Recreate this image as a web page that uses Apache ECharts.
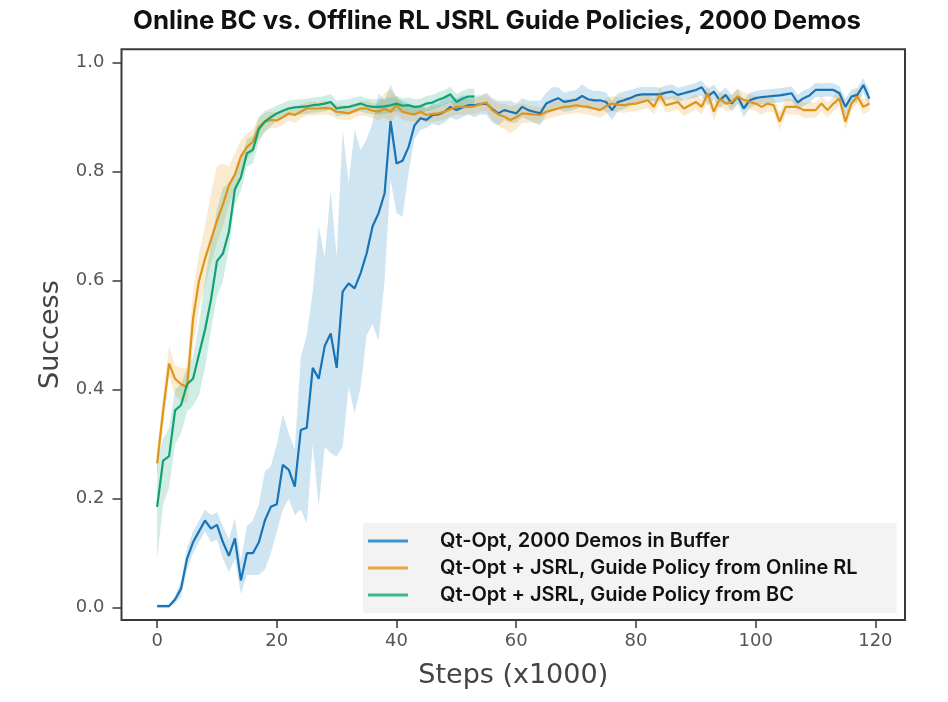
<!DOCTYPE html>
<html>
<head>
<meta charset="utf-8">
<script src="https://cdn.jsdelivr.net/npm/echarts@6/dist/echarts.min.js"></script>
<style>
html,body{margin:0;padding:0;background:#fff;}
#chart{width:948px;height:702px;}
</style>
</head>
<body>
<div id="chart"></div>
<script>
// ---- Data (step index = thousands of steps) ----
const seriesNames = [
  'Qt-Opt, 2000 Demos in Buffer',
  'Qt-Opt + JSRL, Guide Policy from Online RL',
  'Qt-Opt + JSRL, Guide Policy from BC'
];
const xTicks = [0, 20, 40, 60, 80, 100, 120];
const yTicks = [0.0, 0.2, 0.4, 0.6, 0.8, 1.0];

const blueMean = [
  0.003,0.003,0.003,0.015,0.035,0.09,0.12,0.14,0.16,0.145,
  0.152,0.12,0.095,0.127,0.05,0.10,0.10,0.12,0.16,0.185,
  0.19,0.262,0.253,0.222,0.326,0.33,0.44,0.42,0.48,0.503,
  0.44,0.58,0.595,0.586,0.614,0.65,0.70,0.724,0.76,0.893,
  0.815,0.82,0.845,0.885,0.898,0.895,0.904,0.905,0.91,0.919,
  0.913,0.918,0.922,0.922,0.924,0.925,0.915,0.907,0.913,0.91,
  0.907,0.919,0.913,0.91,0.907,0.925,0.93,0.935,0.928,0.93,
  0.932,0.939,0.933,0.931,0.931,0.928,0.913,0.928,0.931,0.935,
  0.94,0.942,0.942,0.942,0.942,0.945,0.947,0.941,0.944,0.947,
  0.95,0.955,0.938,0.947,0.931,0.941,0.925,0.938,0.916,0.931,
  0.935,0.937,0.938,0.939,0.94,0.942,0.944,0.927,0.935,0.94,
  0.95,0.95,0.95,0.95,0.944,0.919,0.938,0.941,0.959,0.934
];
const blueLow = [
  0.0,0.0,0.0,0.008,0.02,0.07,0.10,0.12,0.14,0.12,
  0.125,0.09,0.065,0.09,0.025,0.06,0.06,0.06,0.07,0.10,
  0.14,0.18,0.20,0.17,0.18,0.155,0.30,0.185,0.295,0.284,
  0.277,0.295,0.405,0.357,0.405,0.50,0.52,0.49,0.60,0.785,
  0.724,0.717,0.797,0.86,0.877,0.88,0.888,0.885,0.89,0.90,
  0.895,0.90,0.905,0.90,0.905,0.905,0.89,0.885,0.895,0.89,
  0.89,0.90,0.895,0.89,0.885,0.905,0.91,0.915,0.91,0.912,
  0.915,0.92,0.915,0.914,0.914,0.91,0.895,0.912,0.915,0.92,
  0.927,0.929,0.93,0.929,0.93,0.932,0.934,0.928,0.931,0.934,
  0.936,0.94,0.922,0.933,0.916,0.927,0.91,0.924,0.90,0.917,
  0.922,0.924,0.925,0.926,0.927,0.929,0.93,0.912,0.921,0.926,
  0.937,0.937,0.938,0.937,0.93,0.903,0.924,0.928,0.945,0.92
];
const blueHigh = [
  0.006,0.006,0.006,0.022,0.05,0.11,0.14,0.16,0.18,0.17,
  0.175,0.15,0.125,0.165,0.085,0.15,0.16,0.19,0.25,0.26,
  0.30,0.355,0.32,0.29,0.46,0.50,0.58,0.70,0.644,0.766,
  0.644,0.877,0.78,0.877,0.84,0.86,0.89,0.944,0.93,0.96,
  0.935,0.93,0.925,0.92,0.92,0.915,0.925,0.925,0.94,0.94,
  0.935,0.94,0.94,0.94,0.94,0.945,0.935,0.93,0.93,0.93,
  0.925,0.935,0.93,0.93,0.93,0.945,0.955,0.955,0.945,0.948,
  0.95,0.96,0.952,0.948,0.948,0.946,0.93,0.944,0.947,0.95,
  0.953,0.956,0.955,0.956,0.954,0.958,0.96,0.954,0.957,0.96,
  0.963,0.968,0.952,0.96,0.945,0.955,0.94,0.952,0.93,0.945,
  0.948,0.95,0.951,0.952,0.953,0.955,0.957,0.941,0.949,0.953,
  0.963,0.962,0.963,0.962,0.957,0.934,0.951,0.954,0.972,0.948
];

const orangeMean = [
  0.265,0.36,0.448,0.42,0.41,0.405,0.53,0.60,0.64,0.675,
  0.71,0.74,0.775,0.795,0.828,0.845,0.855,0.882,0.892,0.895,
  0.894,0.90,0.907,0.904,0.91,0.916,0.916,0.916,0.917,0.916,
  0.91,0.909,0.907,0.912,0.916,0.916,0.912,0.91,0.916,0.91,
  0.922,0.91,0.907,0.905,0.91,0.904,0.906,0.907,0.91,0.915,
  0.919,0.919,0.919,0.92,0.924,0.927,0.913,0.905,0.901,0.895,
  0.90,0.907,0.906,0.905,0.904,0.91,0.913,0.916,0.919,0.92,
  0.922,0.92,0.919,0.916,0.913,0.92,0.925,0.923,0.922,0.924,
  0.925,0.928,0.931,0.919,0.941,0.922,0.925,0.928,0.916,0.922,
  0.928,0.919,0.944,0.91,0.934,0.925,0.928,0.938,0.932,0.928,
  0.925,0.919,0.925,0.922,0.892,0.919,0.919,0.919,0.913,0.913,
  0.913,0.925,0.913,0.925,0.934,0.892,0.925,0.938,0.919,0.925
];
const orangeLow = [
  0.245,0.33,0.425,0.39,0.38,0.375,0.48,0.55,0.59,0.63,
  0.67,0.70,0.74,0.765,0.80,0.822,0.835,0.86,0.875,0.88,
  0.88,0.886,0.894,0.89,0.897,0.903,0.903,0.904,0.905,0.903,
  0.897,0.896,0.894,0.899,0.903,0.902,0.898,0.895,0.90,0.89,
  0.905,0.895,0.893,0.891,0.896,0.89,0.892,0.893,0.896,0.901,
  0.905,0.905,0.905,0.906,0.91,0.912,0.895,0.885,0.878,0.87,
  0.878,0.89,0.89,0.89,0.89,0.896,0.899,0.902,0.905,0.906,
  0.908,0.906,0.905,0.902,0.899,0.906,0.911,0.909,0.908,0.91,
  0.911,0.914,0.917,0.905,0.927,0.908,0.911,0.914,0.902,0.908,
  0.914,0.905,0.928,0.894,0.92,0.911,0.914,0.924,0.918,0.914,
  0.911,0.905,0.911,0.908,0.876,0.905,0.905,0.905,0.899,0.899,
  0.899,0.911,0.899,0.911,0.92,0.876,0.911,0.924,0.905,0.911
];
const orangeHigh = [
  0.29,0.39,0.48,0.445,0.44,0.44,0.58,0.65,0.70,0.76,
  0.81,0.815,0.81,0.835,0.858,0.87,0.878,0.90,0.908,0.91,
  0.908,0.914,0.92,0.918,0.923,0.929,0.929,0.928,0.93,0.929,
  0.923,0.922,0.92,0.925,0.929,0.93,0.926,0.925,0.945,0.95,
  0.94,0.925,0.921,0.919,0.924,0.918,0.92,0.921,0.924,0.929,
  0.933,0.933,0.933,0.934,0.938,0.942,0.93,0.925,0.924,0.92,
  0.922,0.925,0.922,0.92,0.918,0.924,0.927,0.93,0.933,0.934,
  0.936,0.934,0.933,0.93,0.927,0.934,0.939,0.937,0.936,0.938,
  0.939,0.942,0.945,0.933,0.955,0.936,0.939,0.942,0.93,0.936,
  0.942,0.933,0.96,0.926,0.948,0.939,0.942,0.952,0.946,0.942,
  0.939,0.933,0.939,0.936,0.908,0.933,0.933,0.933,0.927,0.927,
  0.927,0.939,0.927,0.939,0.948,0.908,0.939,0.952,0.933,0.939
];

const greenMean = [
  0.185,0.27,0.278,0.362,0.372,0.41,0.42,0.465,0.51,0.565,
  0.636,0.65,0.69,0.768,0.79,0.834,0.84,0.878,0.892,0.90,
  0.907,0.912,0.916,0.918,0.919,0.92,0.922,0.923,0.925,0.928,
  0.916,0.918,0.919,0.922,0.925,0.921,0.919,0.919,0.92,0.922,
  0.925,0.921,0.922,0.919,0.92,0.925,0.927,0.932,0.936,0.942,
  0.928,0.934,0.938,0.938
];
const greenLow = [
  0.09,0.19,0.22,0.30,0.32,0.36,0.37,0.39,0.44,0.51,
  0.571,0.60,0.66,0.74,0.765,0.81,0.815,0.855,0.872,0.884,
  0.893,0.898,0.902,0.904,0.905,0.906,0.908,0.909,0.911,0.914,
  0.902,0.904,0.905,0.908,0.911,0.907,0.905,0.905,0.906,0.908,
  0.911,0.907,0.908,0.905,0.906,0.911,0.913,0.918,0.922,0.928,
  0.914,0.92,0.924,0.924
];
const greenHigh = [
  0.27,0.31,0.33,0.40,0.41,0.44,0.46,0.52,0.60,0.67,
  0.73,0.77,0.78,0.80,0.82,0.86,0.865,0.90,0.912,0.916,
  0.921,0.926,0.93,0.932,0.933,0.934,0.936,0.937,0.939,0.942,
  0.93,0.932,0.933,0.936,0.939,0.935,0.933,0.933,0.934,0.936,
  0.939,0.935,0.936,0.933,0.934,0.939,0.941,0.946,0.95,0.956,
  0.942,0.948,0.952,0.952
];

// ---- Styles ----
const lineColors = ['#1874b6', '#e0941a', '#12a075'];
const legendColors = ['#3f93cf', '#e9a640', '#35b98b'];
const bandColors = ['#0173b2', '#de8f05', '#029e73'];

function pairs(arr) { return arr.map((v, i) => [i, v]); }

// Confidence band drawn as one polygon through the axis scales (api.coord)
function bandSeries(low, high, color) {
  return {
    type: 'custom',
    silent: true,
    z: 1,
    clip: true,
    data: low.map((v, i) => [i, v, high[i]]),
    encode: { x: 0, y: [1, 2] },
    renderItem: function (params, api) {
      if (params.dataIndex !== 0) return null;
      const pts = [];
      for (let i = 0; i < high.length; i++) pts.push(api.coord([i, high[i]]));
      for (let i = low.length - 1; i >= 0; i--) pts.push(api.coord([i, low[i]]));
      return { type: 'polygon', shape: { points: pts }, style: { fill: color, opacity: 0.19 } };
    }
  };
}
function meanSeries(name, arr, color) {
  return { type: 'line', name: name, data: pairs(arr), symbol: 'none', showSymbol: false,
    lineStyle: { color: color, width: 2.2 }, itemStyle: { color: color }, z: 3 };
}

const chart = echarts.init(document.getElementById('chart'), null, { renderer: 'canvas' });
const axisColor = '#3a3a3a';
chart.setOption({
  animation: false,
  backgroundColor: '#ffffff',
  title: {
    text: 'Online BC vs. Offline RL JSRL Guide Policies, 2000 Demos',
    left: 497,
    textAlign: 'center',
    top: 8,
    padding: 0,
    textStyle: { fontFamily: 'Inter', fontWeight: 'bold', fontSize: 25.8, color: '#111' }
  },
  grid: {
    left: 121.5, right: 43, top: 49.3, bottom: 82,
    show: true, borderColor: axisColor, borderWidth: 2, backgroundColor: 'transparent'
  },
  legend: {
    orient: 'vertical',
    left: 363, top: 523,
    backgroundColor: '#f3f3f3',
    padding: [7, 39, 7, 5],
    itemGap: 5,
    itemWidth: 40,
    itemHeight: 3,
    icon: 'rect',
    data: seriesNames.map((n, i) => ({ name: n, itemStyle: { color: legendColors[i] } })),
    textStyle: { fontFamily: 'Inter', fontWeight: 600, fontSize: 20, color: '#111',
      lineHeight: 22, padding: [0, 0, 0, 27] }
  },
  xAxis: {
    type: 'value', min: -5.95, max: 124.95,
    name: 'Steps (x1000)', nameLocation: 'middle', nameGap: 42,
    nameTextStyle: { fontFamily: 'DejaVu Sans', fontSize: 27, color: '#444' },
    splitLine: { show: false },
    axisLine: { show: false, onZero: false },
    axisTick: { show: true, customValues: xTicks, length: 8, lineStyle: { color: axisColor, width: 1.5 } },
    axisLabel: { customValues: xTicks, margin: 12, fontFamily: 'DejaVu Sans', fontSize: 18, color: '#555' }
  },
  yAxis: {
    type: 'value', min: -0.0226, max: 1.0246,
    name: 'Success', nameLocation: 'middle', nameGap: 52,
    nameTextStyle: { fontFamily: 'DejaVu Sans', fontSize: 27, color: '#444' },
    splitLine: { show: false },
    axisLine: { show: false, onZero: false },
    axisTick: { show: true, customValues: yTicks, length: 9, lineStyle: { color: axisColor, width: 1.5 } },
    axisLabel: { customValues: yTicks, margin: 17, fontFamily: 'DejaVu Sans', fontSize: 18, color: '#555',
      formatter: v => v.toFixed(1) }
  },
  series: [
    bandSeries(blueLow, blueHigh, bandColors[0]),
    bandSeries(orangeLow, orangeHigh, bandColors[1]),
    bandSeries(greenLow, greenHigh, bandColors[2]),
    meanSeries(seriesNames[0], blueMean, lineColors[0]),
    meanSeries(seriesNames[1], orangeMean, lineColors[1]),
    meanSeries(seriesNames[2], greenMean, lineColors[2])
  ]
});
</script>
</body>
</html>
